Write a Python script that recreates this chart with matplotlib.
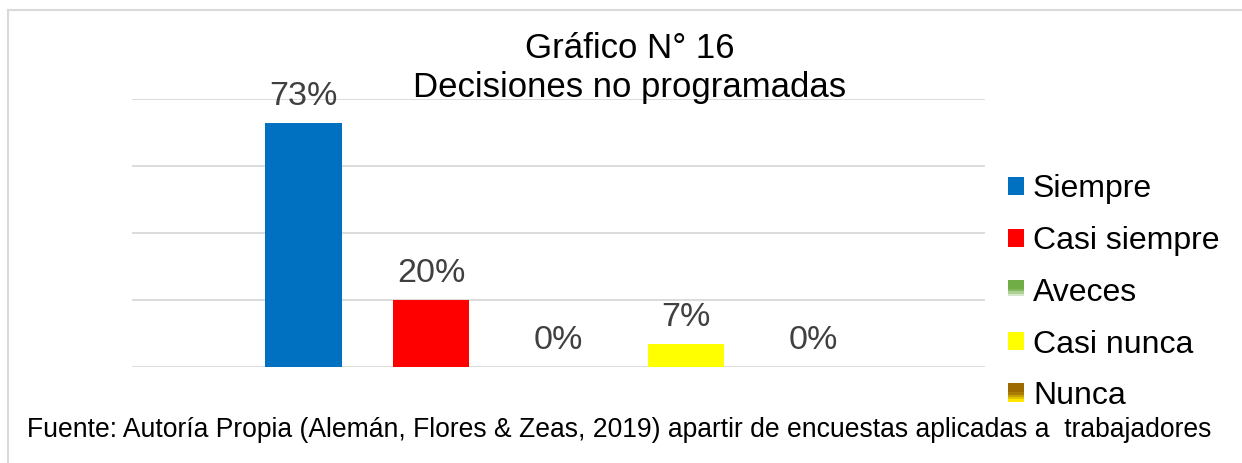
import matplotlib.pyplot as plt
from matplotlib.legend_handler import HandlerBase
from matplotlib.patches import Rectangle
from matplotlib.lines import Line2D
import numpy as np

plt.rcParams['font.family'] = ['Liberation Sans', 'DejaVu Sans']

categories = ['Siempre', 'Casi siempre', 'Aveces', 'Casi nunca', 'Nunca']
values = [0.73, 0.20, 0.0, 0.07, 0.0]
labels = ['73%', '20%', '0%', '7%', '0%']
colors = ['#0070c0', '#ff0000', '#70ad47', '#ffff00', '#9c6a00']
# legend swatches for Aveces / Nunca fade downward
fade_to = [None, None, '#ffffff', None, '#ffe600']


class FadeHandler(HandlerBase):
    def __init__(self, top, bottom):
        super().__init__()
        self.top = top
        self.bottom = bottom

    def create_artists(self, legend, orig_handle, xdescent, ydescent,
                       width, height, fontsize, trans):
        if self.bottom is None:
            return [Rectangle((-xdescent, -ydescent), width, height,
                              facecolor=self.top, edgecolor='none', transform=trans)]
        c1 = np.array(plt.matplotlib.colors.to_rgb(self.top))
        c2 = np.array(plt.matplotlib.colors.to_rgb(self.bottom))
        n = 8
        arts = []
        for i in range(n):
            t = i / (n - 1)
            t = max(0, (t - 0.5) * 2)
            c = c1 * (1 - t) + c2 * t
            y = -ydescent + height * (1 - (i + 1) / n)
            arts.append(Rectangle((-xdescent, y), width, height / n + 0.3,
                                  facecolor=c, edgecolor='none', transform=trans))
        return arts


fig = plt.figure(figsize=(12.42, 4.63), dpi=100)
ax = fig.add_axes([0.1063, 0.2073, 0.6867, 0.5787])

x = np.arange(len(categories))
bars = ax.bar(x, values, width=0.6, color=colors, zorder=3)
for xi, v, lab in zip(x, values, labels):
    ax.text(xi, v + 0.032, lab, ha='center', va='bottom', fontsize=24.5,
            color='#404040', zorder=4)

ax.set_xlim(-1.345, 5.345)
ax.set_ylim(0, 0.8)
ax.set_yticks([0, 0.2, 0.4, 0.6, 0.8])
ax.yaxis.grid(True, color='#d9d9d9', linewidth=1.3, zorder=0)
ax.set_xticks([])
ax.tick_params(left=False, labelleft=False)
for s in ax.spines.values():
    s.set_visible(False)

handles = [Rectangle((0, 0), 1, 1, color=c) for c in colors]
hmap = {h: FadeHandler(c, f) for h, c, f in zip(handles, colors, fade_to)}
fig.legend(handles, categories, handler_map=hmap, loc='upper left',
           bbox_to_anchor=(0.8116, 0.6234), frameon=False, fontsize=23,
           handlelength=0.5, handleheight=0.5, handletextpad=0.28,
           labelspacing=0.68, borderpad=0, borderaxespad=0)

fig.text(0.507, 0.895, 'Gráfico N° 16', ha='center', va='center', fontsize=25)
fig.text(0.507, 0.812, 'Decisiones no programadas', ha='center', va='center', fontsize=25)

fig.text(0.022, 0.071, 'Fuente: Autoría Propia (Alemán, Flores & Zeas, 2019) apartir de encuestas aplicadas a  trabajadores',
         ha='left', va='center', fontsize=19.1)

# outer frame (top and left edges visible)
fig.add_artist(Line2D([0.0065, 1.0], [0.979, 0.979], color='#d9d9d9', linewidth=1.5))
fig.add_artist(Line2D([0.0065, 0.0065], [0.0, 0.979], color='#d9d9d9', linewidth=1.5))

fig.savefig('out.png', dpi=100)
